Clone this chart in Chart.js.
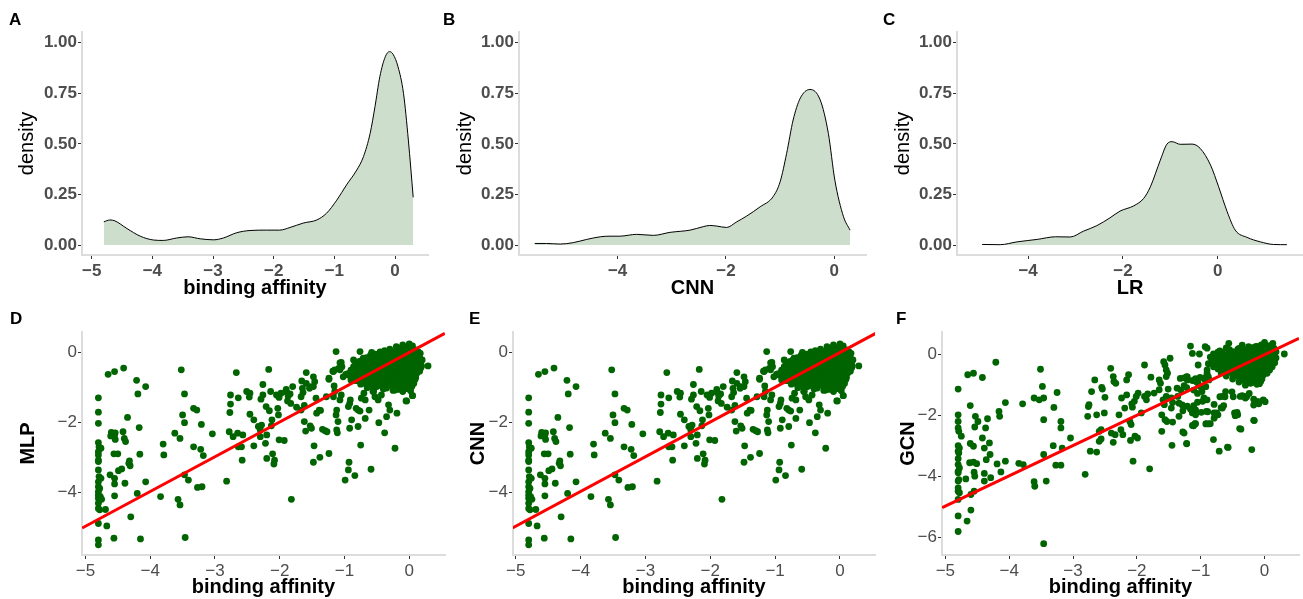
<!DOCTYPE html>
<html>
<head>
<meta charset="utf-8">
<script src="https://cdn.jsdelivr.net/npm/chart.js@4.4.1/dist/chart.umd.min.js"></script>
<style>
  body { margin: 0; background: #fff; width: 1303px; height: 599px; overflow: hidden; position: relative; }
  canvas { position: absolute; }
  .tag { position: absolute; font: bold 17px "Liberation Sans", Arial, sans-serif; line-height: 17px; color: #000; }
</style>
</head>
<body>
<canvas id="cA" width="440" height="300" style="left:0;top:0"></canvas>
<canvas id="cB" width="440" height="300" style="left:440px;top:0"></canvas>
<canvas id="cC" width="423" height="300" style="left:880px;top:0"></canvas>
<canvas id="cD" width="450" height="299" style="left:0;top:300px"></canvas>
<canvas id="cE" width="430" height="299" style="left:450px;top:300px"></canvas>
<canvas id="cF" width="423" height="299" style="left:880px;top:300px"></canvas>
<div class="tag" style="left:9px;top:11px">A</div>
<div class="tag" style="left:443px;top:11px">B</div>
<div class="tag" style="left:883px;top:11px">C</div>
<div class="tag" style="left:10px;top:310px">D</div>
<div class="tag" style="left:469px;top:310px">E</div>
<div class="tag" style="left:896px;top:310px">F</div>
<script>
// density curves
const affinityDensX = [-4.80,-4.70,-4.62,-4.42,-4.20,-3.98,-3.82,-3.60,-3.41,-3.21,-2.99,-2.83,-2.61,-2.39,-2.12,-1.90,-1.73,-1.51,-1.29,-1.13,-0.96,-0.80,-0.63,-0.52,-0.41,-0.33,-0.25,-0.16,-0.09,-0.03,0.05,0.14,0.22,0.30];
const affinityDensY = [0.115,0.124,0.120,0.082,0.044,0.025,0.023,0.035,0.041,0.031,0.026,0.035,0.061,0.072,0.074,0.074,0.087,0.109,0.124,0.157,0.222,0.297,0.371,0.437,0.552,0.684,0.832,0.931,0.956,0.942,0.881,0.750,0.519,0.236];

const cnnDensX = [-5.53,-5.31,-5.06,-4.82,-4.57,-4.32,-4.14,-3.96,-3.65,-3.34,-3.03,-2.66,-2.42,-2.30,-2.17,-1.99,-1.80,-1.62,-1.37,-1.13,-1.00,-0.88,-0.76,-0.63,-0.45,-0.26,-0.11,0.01,0.17,0.29];
const cnnDensY = [0.008,0.008,0.005,0.012,0.028,0.041,0.044,0.044,0.053,0.048,0.063,0.074,0.091,0.097,0.094,0.087,0.115,0.143,0.189,0.239,0.313,0.453,0.618,0.725,0.769,0.717,0.552,0.321,0.140,0.074];

const lrDensX = [-4.97,-4.59,-4.23,-3.81,-3.42,-3.11,-2.83,-2.55,-2.27,-2.06,-1.77,-1.56,-1.42,-1.21,-1.07,-0.96,-0.79,-0.54,-0.37,-0.15,0.02,0.20,0.37,0.62,0.90,1.18,1.46];
const lrDensY = [0.003,0.002,0.016,0.028,0.041,0.040,0.069,0.096,0.135,0.168,0.194,0.231,0.288,0.420,0.499,0.511,0.498,0.499,0.478,0.395,0.288,0.165,0.074,0.038,0.016,0.003,0.002];

// scatter D / E: [binding affinity, prediction]; the two panels show the same cloud
const mlpPoints = [
  [-4.8,-1.30],[-4.8,-1.71],[-4.8,-2.03],[-4.8,-2.58],[-4.79,-2.70],[-4.76,-2.74],[-4.8,-2.84],[-4.8,-2.93],[-4.8,-3.08],[-4.8,-3.12],
  [-4.8,-3.36],[-4.79,-3.55],[-4.76,-3.60],[-4.8,-3.70],[-4.8,-3.84],[-4.78,-3.89],[-4.8,-3.98],[-4.8,-4.08],[-4.77,-4.12],[-4.8,-4.17],
  [-4.75,-4.20],[-4.8,-4.31],[-4.8,-4.46],[-4.78,-4.50],[-4.8,-4.89],[-4.8,-5.36],[-4.8,-5.50],
  [-4.65,-0.63],[-4.55,-0.55],[-4.41,-0.45],[-4.21,-0.80],[-4.07,-0.98],[-4.19,-1.19],[-4.35,-1.86],
  [-4.60,-2.29],[-4.55,-2.36],[-4.61,-2.39],[-4.54,-2.30],[-4.42,-2.27],[-4.40,-2.46],[-4.38,-2.55],[-4.54,-2.49],[-4.17,-2.15],
  [-4.56,-2.90],[-4.50,-2.90],[-4.32,-3.10],[-4.33,-3.17],[-4.31,-3.24],[-4.44,-3.33],[-4.49,-3.38],[-4.62,-3.50],[-4.55,-3.60],
  [-4.55,-3.76],[-4.39,-3.74],[-4.16,-2.91],[-4.07,-3.70],[-4.55,-4.10],[-4.20,-4.03],[-4.69,-4.49],[-4.67,-4.96],[-4.30,-4.70],
  [-4.56,-5.31],[-4.15,-5.33],
  [-3.80,-2.62],[-3.79,-2.93],[-3.84,-4.12],[-3.52,-0.50],[-3.47,-1.19],[-3.50,-1.79],[-3.47,-2.01],[-3.54,-2.46],[-3.62,-2.31],
  [-3.33,-1.60],[-3.28,-1.65],[-3.33,-2.70],[-3.22,-2.77],[-3.21,-2.06],[-3.18,-2.95],[-3.04,-2.33],[-3.47,-3.50],[-3.41,-3.65],
  [-3.27,-3.86],[-3.20,-3.84],[-3.57,-4.20],[-3.54,-4.36],[-3.46,-5.29],
  [-2.82,-3.68],[-2.67,-0.58],[-2.76,-1.22],[-2.76,-1.48],[-2.77,-1.72],[-2.64,-1.30],[-2.78,-2.27],[-2.72,-2.41],[-2.65,-2.31],
  [-2.64,-2.70],[-2.59,-2.70],[-2.57,-2.36],[-2.58,-3.08],[-2.51,-1.12],[-2.46,-1.17],[-2.47,-1.28],[-2.46,-1.77],[-2.40,-1.93],
  [-2.33,-2.12],[-2.30,-2.22],[-2.28,-2.08],[-2.40,-2.67],[-2.30,-2.41],[-2.20,-2.36],[-2.29,-1.34],[-2.26,-1.22],[-2.21,-1.55],
  [-2.22,-2.60],[-2.26,-0.92],[-2.17,-0.49],[-2.16,-1.67],[-2.12,-1.93],[-2.13,-2.10],[-2.14,-1.12],[-2.20,-3.03],[-2.11,-2.90],
  [-2.08,-3.08],[-2.09,-3.19],[-2.05,-1.22],[-2.01,-1.29],[-1.98,-1.17],[-2.03,-1.60],[-2.02,-1.79],[-2.01,-2.50],[-1.93,-2.52],
  [-1.90,-1.06],[-1.89,-1.15],[-1.87,-1.25],[-1.84,-1.19],[-1.82,-4.20],[-1.80,-0.98],[-1.88,-1.39],[-1.83,-1.46],[-1.74,-1.57],
  [-1.66,-0.82],[-1.65,-1.03],[-1.67,-1.27],[-1.64,-1.15],[-1.67,-1.65],[-1.62,-1.52],[-1.60,-2.25],[-1.62,-1.98],[-1.59,-0.58],
  [-1.59,-0.89],[-1.54,-1.03],[-1.53,-0.98],[-1.53,-2.10],[-1.51,-2.17],[-1.48,-0.70],[-1.46,-0.84],[-1.48,-0.98],[-1.44,-1.31],
  [-1.43,-1.74],[-1.47,-2.67],[-1.48,-3.14],[-1.39,-1.65],[-1.37,-1.66],[-1.38,-3.00],[-1.34,-2.20],[-1.30,-2.24],[-1.27,-2.27],
  [-1.24,-2.89],[-1.24,-0.77],[-1.28,-1.27],[-1.18,-0.54],[-1.15,-0.50],[-1.16,-0.96],[-1.15,-1.12],[-1.17,-1.27],[-1.13,0.02],
  [-1.12,-1.65],[-1.13,-1.79],[-1.10,-1.98],[-1.11,-2.30],[-1.12,-2.22],[-1.07,-0.30],[-1.07,-0.50],[-1.05,-1.22],[-1.07,-1.36],
  [-0.99,-3.65],[-0.94,-3.36],[-0.93,-3.14],[-0.92,-2.17],[-0.89,-1.93],[-0.92,-1.46],[-0.94,-1.55],[-0.91,-1.36],[-0.84,-3.52],
  [-0.79,-2.12],[-0.76,0.02],[-0.75,-2.65],[-0.82,-1.60],[-0.76,-1.68],[-0.79,-1.65],[-0.68,-1.89],[-0.70,-1.17],[-0.68,-1.36],
  [-0.74,-1.31],[-0.59,-3.34],[-0.62,-1.65],[-0.56,-1.12],[-0.53,-1.27],[-0.48,-1.36],[-0.47,-2.01],[-0.38,-2.30],[-0.35,-1.84],
  [-0.32,-1.50],[-0.30,-1.65],[-0.22,-2.74],[-0.19,-1.74],[-0.05,-1.39],[0.05,-1.24],[0.29,-0.39],[0.17,-0.03],
  [-1.24,-0.74],[-1.17,-0.55],[-1.09,-0.46],[-1.05,-0.29],[-1.04,-0.41],[-1.02,-0.70],[-0.98,-0.63],[-0.94,-0.65],[-0.90,-0.79],
  [-0.89,-0.55],[-0.86,-0.22],[-0.81,-0.41],[-0.78,-0.27],[-0.76,-0.65],[-0.73,-0.51],[-0.71,-0.17],[-0.68,-0.89],[-0.63,-0.36],
  [-0.60,-0.74],[-0.58,0.00],[-0.55,-1.03],[-0.43,-1.22],[-0.22,-1.08],[0.05,-1.24],[-0.04,-1.39],
  // dense cloud near zero
  [-0.10,0.21],[0.00,0.24],[0.05,0.18],[-0.30,0.09],[-0.15,0.12],[-0.05,0.08],[0.02,0.11],[0.10,0.07],
  [-0.45,0.01],[-0.35,-0.02],[-0.25,0.02],[-0.12,-0.01],[-0.03,0.03],[0.06,-0.02],[0.14,0.01],
  [-0.60,-0.09],[-0.50,-0.12],[-0.40,-0.08],[-0.30,-0.11],[-0.20,-0.09],[-0.10,-0.12],[0.00,-0.08],[0.08,-0.11],[0.15,-0.09],
  [-0.72,-0.21],[-0.62,-0.18],[-0.52,-0.22],[-0.42,-0.19],[-0.33,-0.21],[-0.24,-0.18],[-0.15,-0.22],[-0.06,-0.19],[0.03,-0.21],[0.12,-0.18],[0.20,-0.22],
  [-0.80,-0.31],[-0.68,-0.29],[-0.58,-0.32],[-0.47,-0.28],[-0.38,-0.31],[-0.28,-0.29],[-0.19,-0.32],[-0.10,-0.28],[-0.01,-0.31],[0.08,-0.29],[0.17,-0.32],
  [-0.86,-0.41],[-0.75,-0.38],[-0.64,-0.42],[-0.54,-0.39],[-0.44,-0.41],[-0.35,-0.38],[-0.25,-0.42],[-0.16,-0.39],[-0.07,-0.41],[0.02,-0.38],[0.10,-0.42],[0.19,-0.39],
  [-0.90,-0.51],[-0.80,-0.48],[-0.70,-0.52],[-0.60,-0.49],[-0.50,-0.51],[-0.40,-0.48],[-0.30,-0.52],[-0.21,-0.49],[-0.12,-0.51],[-0.03,-0.48],[0.06,-0.52],[0.14,-0.49],
  [-0.95,-0.61],[-0.85,-0.58],[-0.74,-0.62],[-0.63,-0.59],[-0.53,-0.61],[-0.43,-0.58],[-0.33,-0.62],[-0.23,-0.59],[-0.14,-0.61],[-0.05,-0.58],[0.04,-0.62],[0.12,-0.59],
  [-0.88,-0.71],[-0.78,-0.68],[-0.66,-0.72],[-0.56,-0.69],[-0.46,-0.71],[-0.36,-0.68],[-0.26,-0.72],[-0.16,-0.69],[-0.07,-0.71],[0.02,-0.68],[0.10,-0.72],
  [-0.82,-0.81],[-0.70,-0.78],[-0.58,-0.82],[-0.47,-0.79],[-0.37,-0.81],[-0.27,-0.78],[-0.17,-0.82],[-0.08,-0.79],[0.01,-0.81],[0.09,-0.78],
  [-0.75,-0.91],[-0.60,-0.88],[-0.45,-0.92],[-0.33,-0.89],[-0.22,-0.91],[-0.12,-0.88],[-0.02,-0.92],[0.07,-0.89],
  [-0.65,-1.01],[-0.50,-0.98],[-0.35,-1.02],[-0.20,-0.99],[-0.08,-1.01],[0.04,-0.98],
  [-0.55,-1.11],[-0.25,-1.09],[-0.10,-1.12],[0.02,-1.10],
  [-0.20,0.16],[-0.08,0.14],[0.04,0.15],
  [-0.38,0.05],[-0.20,0.04],[-0.08,0.06],[0.02,0.05],[0.10,0.04],
  [-0.52,-0.05],[-0.35,-0.06],[-0.25,-0.04],[-0.15,-0.05],[-0.05,-0.06],[0.04,-0.04],[0.12,-0.05],
  [-0.66,-0.15],[-0.56,-0.16],[-0.46,-0.14],[-0.37,-0.15],[-0.28,-0.16],[-0.19,-0.14],[-0.10,-0.15],[-0.01,-0.16],[0.08,-0.14],[0.16,-0.15],
  [-0.75,-0.25],[-0.63,-0.26],[-0.52,-0.24],[-0.43,-0.25],[-0.33,-0.26],[-0.23,-0.24],[-0.14,-0.25],[-0.05,-0.26],[0.04,-0.24],[0.13,-0.25],
  [-0.83,-0.35],[-0.70,-0.36],[-0.60,-0.34],[-0.49,-0.35],[-0.40,-0.36],[-0.30,-0.34],[-0.21,-0.35],[-0.12,-0.36],[-0.03,-0.34],[0.06,-0.35],[0.15,-0.36],
  [-0.85,-0.45],[-0.75,-0.46],[-0.65,-0.44],[-0.55,-0.45],[-0.45,-0.46],[-0.35,-0.44],[-0.26,-0.45],[-0.17,-0.46],[-0.08,-0.44],[0.01,-0.45],[0.10,-0.46],[0.18,-0.44],
  [-0.90,-0.55],[-0.79,-0.56],[-0.68,-0.54],[-0.58,-0.55],[-0.48,-0.56],[-0.38,-0.54],[-0.28,-0.55],[-0.18,-0.56],[-0.09,-0.54],[0.00,-0.55],[0.08,-0.56],[0.16,-0.54],
  [-0.83,-0.65],[-0.71,-0.66],[-0.61,-0.64],[-0.51,-0.65],[-0.41,-0.66],[-0.31,-0.64],[-0.21,-0.65],[-0.11,-0.66],[-0.02,-0.64],[0.07,-0.65],
  [-0.76,-0.75],[-0.63,-0.76],[-0.52,-0.74],[-0.42,-0.75],[-0.32,-0.76],[-0.22,-0.74],[-0.12,-0.75],[-0.03,-0.76],[0.06,-0.74],
  [-0.68,-0.85],[-0.53,-0.86],[-0.40,-0.84],[-0.28,-0.85],[-0.17,-0.86],[-0.07,-0.84],[0.03,-0.85],
  [-0.57,-0.95],[-0.42,-0.96],[-0.28,-0.94],[-0.15,-0.95],[-0.04,-0.96],
  [-0.40,-1.05],[-0.17,-1.06],[-0.03,-1.04]
];
const cnnPoints = mlpPoints;

// scatter F: [binding affinity, GCN prediction]
const gcnPoints = [
  [-4.8,-1.14],[-4.8,-1.98],[-4.8,-2.20],[-4.8,-2.41],[-4.79,-2.52],[-4.8,-2.99],[-4.78,-3.07],[-4.8,-3.17],[-4.79,-3.23],[-4.8,-3.42],
  [-4.8,-3.61],[-4.78,-3.72],[-4.8,-3.83],[-4.8,-3.88],[-4.79,-4.10],[-4.8,-4.15],[-4.8,-4.37],[-4.8,-4.48],[-4.78,-4.53],[-4.8,-4.75],
  [-4.8,-5.29],[-4.8,-5.80],
  [-4.65,-0.67],[-4.56,-0.62],[-4.42,-0.76],[-4.21,-0.26],[-4.61,-1.68],[-4.75,-2.68],[-4.53,-2.03],[-4.49,-2.20],[-4.54,-2.38],
  [-4.61,-2.92],[-4.56,-3.01],[-4.37,-2.41],[-4.34,-2.11],[-4.42,-2.74],[-4.39,-3.07],[-4.36,-3.45],[-4.31,-2.90],[-4.30,-3.28],
  [-4.62,-3.55],[-4.56,-3.53],[-4.51,-3.58],[-4.55,-3.86],[-4.54,-3.99],[-4.68,-4.08],[-4.39,-3.90],[-4.39,-4.15],[-4.29,-4.04],
  [-4.16,-1.87],[-4.15,-2.03],[-4.19,-3.59],[-4.13,-3.85],[-4.06,-1.58],[-4.06,-3.50],[-3.85,-3.57],[-3.78,-3.61],[-3.79,-1.62],
  [-4.60,-4.59],[-4.55,-4.48],[-4.60,-5.10],[-4.66,-5.46],[-3.61,-4.17],[-3.60,-4.32],[-3.42,-4.15],[-3.46,-6.20],[-3.51,-0.49],
  [-3.48,-1.05],[-3.53,-1.49],[-3.46,-1.43],[-3.61,-1.43],[-3.46,-2.14],[-3.46,-3.28],[-3.30,-1.74],[-3.25,-1.25],[-3.31,-2.99],
  [-3.27,-3.63],[-3.19,-3.63],[-3.19,-2.20],[-3.19,-2.41],[-3.17,-3.07],[-3.04,-2.74],[-2.81,-3.93],[-2.77,-2.03],[-2.75,-1.65],
  [-2.76,-1.71],[-2.71,-1.22],[-2.66,-0.84],[-2.63,-1.98],[-2.63,-3.20],[-2.73,-3.17],[-2.59,-2.85],[-2.56,-2.77],[-2.55,-1.08],
  [-2.54,-1.14],[-2.50,-1.41],[-2.51,-1.92],[-2.59,-2.52],[-2.56,-2.47],[-2.41,-0.46],[-2.37,-0.73],[-2.36,-0.89],[-2.33,-0.95],
  [-2.40,-2.58],[-2.34,-2.63],[-2.37,-2.88],[-2.28,-1.98],[-2.25,-2.47],[-2.22,-2.63],[-2.24,-1.43],[-2.19,-1.76],[-2.16,-1.33],
  [-2.16,-0.84],[-2.13,-0.67],[-2.11,-2.20],[-2.09,-2.30],[-2.07,-1.73],[-2.08,-1.62],[-2.04,-1.54],[-2.01,-1.38],[-2.06,-3.50],
  [-2.10,-2.82],[-2.03,-2.68],[-1.99,-2.74],[-1.98,-1.27],[-1.93,-1.92],[-1.88,-0.35],[-1.88,-1.38],[-1.85,-1.49],[-1.83,-1.30],
  [-1.80,-3.75],[-1.78,-0.75],[-1.73,-1.27],[-1.65,-0.84],[-1.63,-0.95],[-1.65,-1.16],[-1.61,-2.52],[-1.61,-1.98],[-1.58,-0.24],
  [-1.56,-0.35],[-1.54,-0.51],[-1.52,-0.62],[-1.54,-0.73],[-1.59,-1.49],[-1.57,-1.65],[-1.54,-1.38],[-1.56,-2.14],[-1.53,-2.20],
  [-1.51,-1.14],[-1.48,-0.13],[-1.46,-1.43],[-1.44,-1.58],[-1.46,-1.76],[-1.45,-2.98],[-1.44,-2.22],[-1.37,-1.11],[-1.36,-1.38],
  [-1.34,-1.60],[-1.34,-2.03],[-1.28,-2.54],[-1.22,-0.73],[-1.21,-0.84],[-1.26,-1.03],[-1.22,-2.92],[-1.16,0.27],[-1.13,0.03],
  [-1.13,-1.92],[-1.10,-1.87],[-1.08,-1.82],[-1.11,-2.34],[-1.08,-2.27],[-1.10,-0.84],[-1.07,-0.90],[-1.04,-0.95],[-1.01,-1.05],
  [-1.02,0.01],[-1.04,-0.35],[-0.97,-1.54],[-0.95,-1.43],[-0.93,0.25],[-0.90,0.20],[-0.92,-0.76],[-0.90,-0.62],[-0.87,-0.84],
  [-0.91,-1.87],[-0.90,-1.49],[-0.91,-2.27],[-0.85,-2.27],[-0.84,-0.29],[-0.81,-0.24],[-0.79,-1.92],[-0.79,-2.09],[-0.80,-2.79],
  [-0.73,0.07],[-0.73,-1.98],[-0.71,-3.17],[-0.66,-1.76],[-0.64,-1.68],[-0.66,-1.38],[-0.61,-1.22],[-0.56,0.36],[-0.56,0.14],
  [-0.58,-3.04],[-0.51,-0.05],[-0.53,-0.29],[-0.47,-1.92],[-0.46,-2.01],[-0.38,-1.38],[-0.35,-1.35],[-0.32,-1.38],[-0.30,-1.43],
  [-0.39,-2.43],[-0.20,-3.12],[-0.17,-1.47],[-0.13,-1.54],[-0.09,-1.62],[-0.17,-2.16],[-0.02,-1.49],[0.13,0.36],[0.31,0.01],
  [0.00,0.39],[-0.14,0.25],
  [-1.32,-0.79],[-1.26,-0.77],[-1.21,-0.74],[-1.13,-0.86],[-1.08,-0.80],[-1.01,-0.76],[-0.94,-0.82],[-0.88,-0.74],[-1.31,-1.17],
  [-1.22,-1.09],[-1.11,-1.17],[-1.05,-1.28],[-0.98,-1.22],[-0.92,-1.06],[-1.29,-1.66],[-1.21,-1.70],[-1.28,-1.85],[-1.16,-1.80],
  [-1.11,-1.68],[-1.05,-1.57],[-0.99,-1.90],[-1.08,-1.98],[-0.89,-1.88],[-0.79,-1.64],[-0.75,-1.92],[-0.68,-1.75],[-0.70,-1.39],
  [-0.62,-1.39],[-0.51,-1.23],[-0.49,-1.39],[-0.43,-1.90],[-0.42,-1.98],[-0.28,-1.39],[-0.24,-1.28],[-0.17,-1.66],[-0.09,-1.55],
  [0.01,-1.55],[-1.26,-2.58],[-1.22,-2.93],[-1.13,-2.33],[-1.09,-2.27],[-0.92,-2.28],[-0.87,-2.28],[-0.57,-3.05],[-0.37,-2.45],
  [-0.16,-2.17],
  // dense cloud near zero
  [-0.35,0.30],[-0.05,0.31],[0.08,0.28],
  [-0.60,0.21],[-0.40,0.19],[-0.20,0.22],[-0.08,0.18],[0.05,0.21],[0.15,0.19],
  [-0.70,0.11],[-0.50,0.09],[-0.32,0.12],[-0.22,0.08],[-0.12,0.11],[-0.02,0.09],[0.08,0.12],[0.18,0.08],
  [-0.80,0.01],[-0.62,-0.02],[-0.45,0.02],[-0.35,-0.01],[-0.25,0.02],[-0.15,-0.02],[-0.05,0.01],[0.05,-0.01],[0.14,0.02],
  [-0.85,-0.09],[-0.70,-0.12],[-0.55,-0.08],[-0.42,-0.11],[-0.30,-0.09],[-0.20,-0.12],[-0.10,-0.08],[0.00,-0.11],[0.10,-0.09],[0.18,-0.12],
  [-0.78,-0.21],[-0.62,-0.18],[-0.48,-0.22],[-0.36,-0.19],[-0.25,-0.21],[-0.15,-0.18],[-0.05,-0.22],[0.05,-0.19],[0.14,-0.21],
  [-0.88,-0.31],[-0.72,-0.28],[-0.57,-0.32],[-0.43,-0.29],[-0.32,-0.31],[-0.22,-0.28],[-0.12,-0.32],[-0.02,-0.29],[0.08,-0.31],[0.16,-0.28],
  [-0.80,-0.41],[-0.65,-0.38],[-0.50,-0.42],[-0.38,-0.39],[-0.27,-0.41],[-0.17,-0.38],[-0.07,-0.42],[0.03,-0.39],[0.12,-0.41],
  [-0.90,-0.51],[-0.73,-0.48],[-0.58,-0.52],[-0.45,-0.49],[-0.33,-0.51],[-0.22,-0.48],[-0.12,-0.52],[-0.02,-0.49],[0.08,-0.51],
  [-0.68,-0.61],[-0.52,-0.58],[-0.40,-0.62],[-0.28,-0.59],[-0.17,-0.61],[-0.07,-0.58],[0.04,-0.62],
  [-0.60,-0.71],[-0.45,-0.68],[-0.33,-0.72],[-0.22,-0.69],[-0.12,-0.71],[-0.02,-0.68],
  [-0.50,-0.81],[-0.36,-0.78],[-0.25,-0.82],[-0.14,-0.79],[-0.04,-0.81],
  [-0.40,-0.91],[-0.28,-0.88],[-0.16,-0.92],[-0.06,-0.89],
  [-0.30,-1.01],[-0.12,-0.98],
  [-0.25,0.25],[-0.12,0.26],[0.02,0.24],[0.12,0.25],
  [-0.55,0.15],[-0.42,0.16],[-0.27,0.14],[-0.17,0.15],[-0.07,0.16],[0.03,0.14],[0.13,0.15],
  [-0.66,0.05],[-0.52,0.06],[-0.40,0.04],[-0.30,0.05],[-0.20,0.06],[-0.10,0.04],[0.00,0.05],[0.10,0.06],
  [-0.76,-0.05],[-0.60,-0.06],[-0.48,-0.04],[-0.36,-0.05],[-0.25,-0.06],[-0.15,-0.04],[-0.05,-0.05],[0.05,-0.06],[0.15,-0.04],
  [-0.70,-0.15],[-0.55,-0.16],[-0.42,-0.14],[-0.30,-0.15],[-0.20,-0.16],[-0.10,-0.14],[0.00,-0.15],[0.10,-0.16],
  [-0.80,-0.25],[-0.65,-0.26],[-0.52,-0.24],[-0.38,-0.25],[-0.27,-0.26],[-0.17,-0.24],[-0.07,-0.25],[0.03,-0.26],[0.12,-0.24],
  [-0.72,-0.35],[-0.58,-0.36],[-0.45,-0.34],[-0.33,-0.35],[-0.22,-0.36],[-0.12,-0.34],[-0.02,-0.35],[0.08,-0.36],
  [-0.65,-0.45],[-0.52,-0.46],[-0.40,-0.44],[-0.28,-0.45],[-0.17,-0.46],[-0.07,-0.44],[0.03,-0.45],
  [-0.60,-0.55],[-0.46,-0.56],[-0.34,-0.54],[-0.23,-0.55],[-0.12,-0.56],[-0.02,-0.54],
  [-0.50,-0.65],[-0.36,-0.66],[-0.24,-0.64],[-0.13,-0.65],[-0.03,-0.66],
  [-0.40,-0.75],[-0.28,-0.76],[-0.17,-0.74],[-0.07,-0.75],
  [-0.32,-0.85],[-0.20,-0.86],[-0.10,-0.84],
  [-0.22,-0.95],[-0.08,-0.96]
];

// fitted red lines (end points at the panel edges)
const fitDE_x = [-5.05, 0.55];
const fitDE_y = [-5.02, 0.54];
const fitF_x = [-5.05, 0.54];
const fitF_y = [-5.02, 0.52];

const densYTicks = [0, 0.25, 0.5, 0.75, 1];
const affinityTicks = [-5, -4, -3, -2, -1, 0];
const evenTicks = [-4, -2, 0];
const predTicksDE = [0, -2, -4];
const predTicksF = [0, -2, -4, -6];

Chart.defaults.font.family = '"Liberation Sans", Arial, sans-serif';
Chart.defaults.animation = false;

const minus = v => (v < 0 ? '\u2212' + Math.abs(v) : String(v));

function axis(opts) {
  const horiz = opts.pos === 'x';
  return {
    type: 'linear',
    position: horiz ? 'bottom' : 'left',
    min: opts.min,
    max: opts.max,
    afterBuildTicks: s => { s.ticks = opts.ticks.map(v => ({ value: v })); },
    afterFit: s => { if (horiz) s.height = opts.size; else s.width = opts.size; },
    grid: { drawOnChartArea: false, color: '#333', tickColor: '#333', tickLength: 4, tickWidth: 1 },
    border: { display: true, color: '#dcdcdc', width: 2 },
    ticks: {
      autoSkip: false, maxRotation: 0, padding: horiz ? 2 : 1,
      color: '#4d4d4d',
      font: { size: opts.tickSize, weight: opts.tickBold ? 'bold' : 'normal' },
      callback: opts.fmt
    },
    title: {
      display: true, text: opts.title, color: '#000',
      font: { size: 20, weight: opts.titleBold ? 'bold' : 'normal', lineHeight: 1.2 },
      padding: horiz ? { top: 0, bottom: 0 } : { top: opts.titlePad, bottom: 0 }
    }
  };
}

function densityChart(id, xs, ys, xMin, xMax, xTicks, xTitle, yWidth, rightPad, yTitlePad) {
  new Chart(document.getElementById(id), {
    type: 'line',
    data: {
      datasets: [{
        data: xs.map((x, i) => ({ x: x, y: ys[i] })),
        borderColor: '#000',
        borderWidth: 1,
        backgroundColor: '#cddfcc',
        fill: 'origin',
        pointRadius: 0,
        cubicInterpolationMode: 'monotone'
      }]
    },
    options: {
      responsive: false,
      layout: { padding: { top: 32, right: rightPad, left: 0, bottom: 0 } },
      plugins: { legend: { display: false }, tooltip: { enabled: false } },
      scales: {
        x: axis({ pos: 'x', min: xMin, max: xMax, ticks: xTicks, size: 45, tickSize: 17, tickBold: true, title: xTitle, titleBold: true, fmt: minus }),
        y: axis({ pos: 'y', min: -0.049, max: 1.053, ticks: densYTicks, size: yWidth, tickSize: 17, tickBold: true, title: 'density', titleBold: false, titlePad: yTitlePad, fmt: v => v.toFixed(2) })
      }
    }
  });
}

function scatterChart(id, pts, fx, fy, xMin, xMax, yMin, yMax, yTicks, yTitle, yWidth, rightPad) {
  new Chart(document.getElementById(id), {
    type: 'scatter',
    data: {
      datasets: [
        {
          type: 'line',
          data: fx.map((x, i) => ({ x: x, y: fy[i] })),
          borderColor: '#ff0000',
          borderWidth: 3,
          pointRadius: 0,
          order: 0
        },
        {
          data: pts.map(p => ({ x: p[0], y: p[1] })),
          backgroundColor: '#006400',
          borderWidth: 0,
          pointRadius: 3.4,
          order: 1
        }
      ]
    },
    options: {
      responsive: false,
      layout: { padding: { top: 32, right: rightPad, left: 0, bottom: 0 } },
      plugins: { legend: { display: false }, tooltip: { enabled: false } },
      scales: {
        x: axis({ pos: 'x', min: xMin, max: xMax, ticks: affinityTicks, size: 44, tickSize: 17, tickBold: false, title: 'binding affinity', titleBold: true, fmt: minus }),
        y: axis({ pos: 'y', min: yMin, max: yMax, ticks: yTicks, size: yWidth, tickSize: 17, tickBold: false, title: yTitle, titleBold: true, titlePad: 16, fmt: minus })
      }
    }
  });
}

densityChart('cA', affinityDensX, affinityDensY, -5.16, 0.544, affinityTicks, 'binding affinity', 82, 12, 15);
densityChart('cB', cnnDensX, cnnDensY, -5.82, 0.585, evenTicks, 'CNN', 79, 14, 13);
densityChart('cC', lrDensX, lrDensY, -5.50, 1.80, evenTicks, 'LR', 77, 0, 11);

scatterChart('cD', mlpPoints, fitDE_x, fitDE_y, -5.053, 0.552, -5.79, 0.58, predTicksDE, 'MLP', 82, 5);
scatterChart('cE', cnnPoints, fitDE_x, fitDE_y, -5.042, 0.54, -5.79, 0.58, predTicksDE, 'CNN', 63, 5);
scatterChart('cF', gcnPoints, fitF_x, fitF_y, -5.053, 0.54, -6.57, 0.73, predTicksF, 'GCN', 62, 0);
</script>
</body>
</html>
